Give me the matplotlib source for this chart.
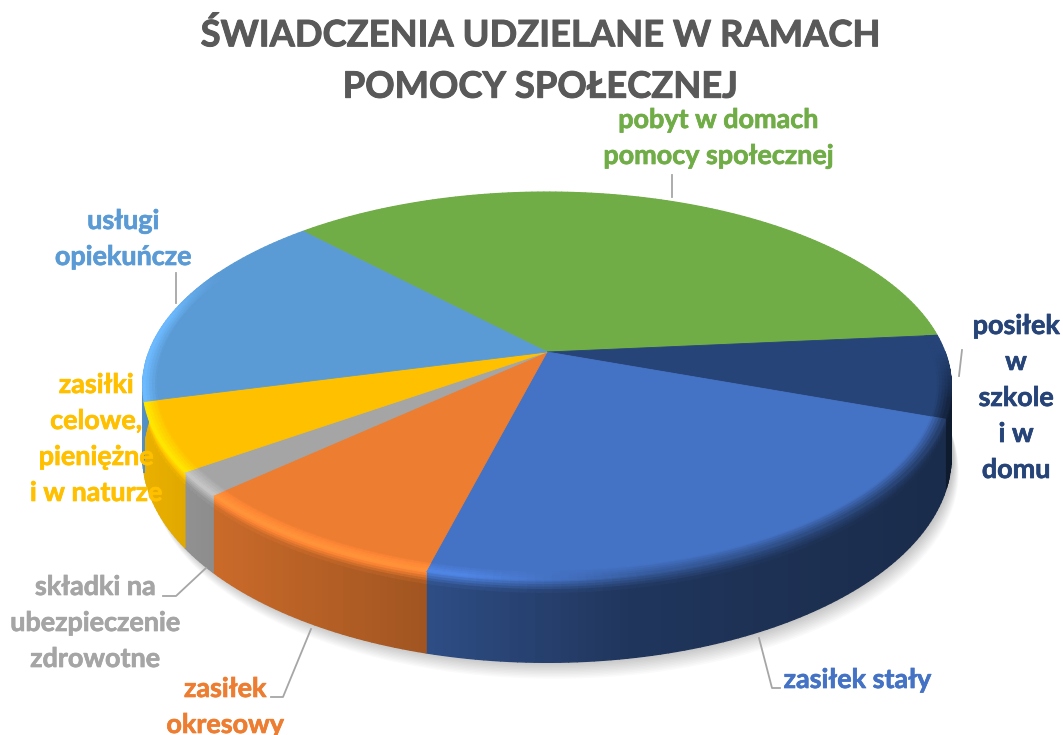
import numpy as np
import matplotlib
matplotlib.use("Agg")
import matplotlib.pyplot as plt
import matplotlib.patheffects as pe
from matplotlib.collections import PolyCollection
from matplotlib.colors import to_rgb

plt.rcParams["font.family"] = ["Lato", "DejaVu Sans"]

# ===============================
# Data, clockwise from the green slice
# ===============================
title = "ŚWIADCZENIA UDZIELANE W RAMACH\nPOMOCY SPOŁECZNEJ"
labels = ["pobyt w domach\npomocy społecznej", "posiłek\nw\nszkole\ni w\ndomu", "zasiłek stały", "zasiłek\nokresowy",
          "składki na\nubezpieczenie\nzdrowotne", "zasiłki\ncelowe,\npieniężne\ni w naturze", "usługi\nopiekuńcze"]
values = [35.7, 6.9, 23.6, 9.2, 2.0, 5.7, 16.9]
colors = ["#70AD47", "#264478", "#4472C4", "#ED7D31", "#A5A5A5", "#FFC000", "#5B9BD5"]

# layout, all in pixels of the 1063x735 picture
label_xy = [(718, 138), (1016, 398), (857, 680), (225, 707), (95, 623), (96, 439), (123, 239)]
leaders = [[(672, 175), (672, 197)], [(962, 350), (959, 376)], [(780, 688), (772, 688), (759, 638)],
           [(271, 697), (283, 697), (311, 629)], [(163, 596), (176, 596), (206, 568)], [], [(176, 273), (176, 303)]]
start_angle = 133.7
cx, cy = 547, 352
R, b, k, depth = 398, 188, 0.175, 68


def project(t, r=1.0, d=0.0):
    # perspective view of a disc, near edge larger than far edge
    x = r * np.cos(t)
    y = r * np.sin(t)
    w = 1 + k * y
    return cx + R * x / w, cy - b * y / w + depth * d / w


def shade(c, f):
    return tuple(min(1, v * f) for v in c)


def quad(t0, t1, r0, d0, r1, d1):
    a = project(t0, r0, d0)
    e = project(t1, r0, d0)
    f = project(t1, r1, d1)
    g = project(t0, r1, d1)
    return [a, e, f, g]


fig = plt.figure(figsize=(10.63, 7.35), dpi=100)
ax = fig.add_axes([0, 0, 1, 1])
ax.set_xlim(0, 1063)
ax.set_ylim(735, 0)
ax.axis("off")

# soft shadow under the pie
ring = np.linspace(0, 2 * np.pi, 361)
for n in range(12):
    px, py = project(ring, 1.0, 1.0)
    ax.fill(px + 2 + n * 0.5, py + n * 1.5, color="#000000", alpha=0.018, lw=0, zorder=1)

sweeps = np.array(values) / sum(values) * 2 * np.pi
ends = np.radians(start_angle) - np.cumsum(sweeps)
starts = ends + sweeps

walls, wall_cols = [], []
rims, rim_cols = [], []
tops = []
bevel_r = 0.965
bevel_d = 0.15
for s0, e0, color in zip(starts, ends, colors):
    base = to_rgb(color)
    n = max(int(np.degrees(s0 - e0)), 2)
    edges = np.linspace(s0, e0, n + 1)
    # wall and rim, cut into thin strips for the light falloff
    for t0, t1 in zip(edges[:-1], edges[1:]):
        tm = (t0 + t1) / 2
        pos = (project(tm)[0] - 143) / 807
        wall = np.interp(pos, [0, 0.09, 0.35, 0.6, 1], [0.92, 0.85, 0.68, 0.47, 0.38])
        glow = np.interp(pos, [0, 0.4, 0.62, 1], [1.22, 1.18, 0.8, 0.5])
        # the bevel only shows on the near side
        limit = 0.45 if np.cos(tm) < 0 else 0.0
        weight = np.clip((limit - np.sin(tm)) / 0.25, 0, 1)
        glow = 1 + (glow - 1) * weight
        if weight > 0 or np.cos(tm) > 0 and np.sin(tm) < 0.2:
            walls.append(quad(t0, t1, 1.0, bevel_d, 1.0, 1.0))
            wall_cols.append(shade(base, wall))
        steps = 5
        for i in range(steps):
            u0, u1 = i / steps, (i + 1) / steps
            if weight > 0:
                walls.append(quad(t0, t1, 1.0, bevel_d * u0, 1.0, bevel_d * u1))
                wall_cols.append(shade(base, glow + (wall - glow) * (u0 + u1) / 2))
            r0 = bevel_r + (1 - bevel_r) * u0
            r1 = bevel_r + (1 - bevel_r) * u1
            rims.append(quad(t0, t1, r0, 0, r1, 0))
            rim_cols.append(shade(base, 1 + (glow - 1) * (u0 + u1) / 2))
    # flat top, up to the start of the bevel
    fx, fy = project(edges, bevel_r)
    tops.append((np.r_[cx, fx], np.r_[cy, fy], color))

ax.add_collection(PolyCollection(walls, facecolors=wall_cols, edgecolors=wall_cols, linewidths=1.0, zorder=2))
ax.add_collection(PolyCollection(rims, facecolors=rim_cols, edgecolors=rim_cols, linewidths=0.8, zorder=3))
for fx, fy, color in tops:
    ax.fill(fx, fy, color=color, lw=0.6, zorder=4)

for line in leaders:
    if line:
        xs, ys = zip(*line)
        ax.plot(xs, ys, color="#A6A6A6", lw=1.3, zorder=5)

ax.text(540, 61, title, color="#595959", fontsize=26.2, fontweight="bold", ha="center", va="center",
        linespacing=1.68, zorder=7, path_effects=[pe.withStroke(linewidth=0.7, foreground="#595959")])
for (x, y), text, color in zip(label_xy, labels, colors):
    ax.text(x, y, text, color=color, fontsize=19.4, fontweight="bold", ha="center", va="center",
            linespacing=1.6, zorder=6, path_effects=[pe.withStroke(linewidth=0.5, foreground=color)])

fig.savefig("out.png", dpi=100)
